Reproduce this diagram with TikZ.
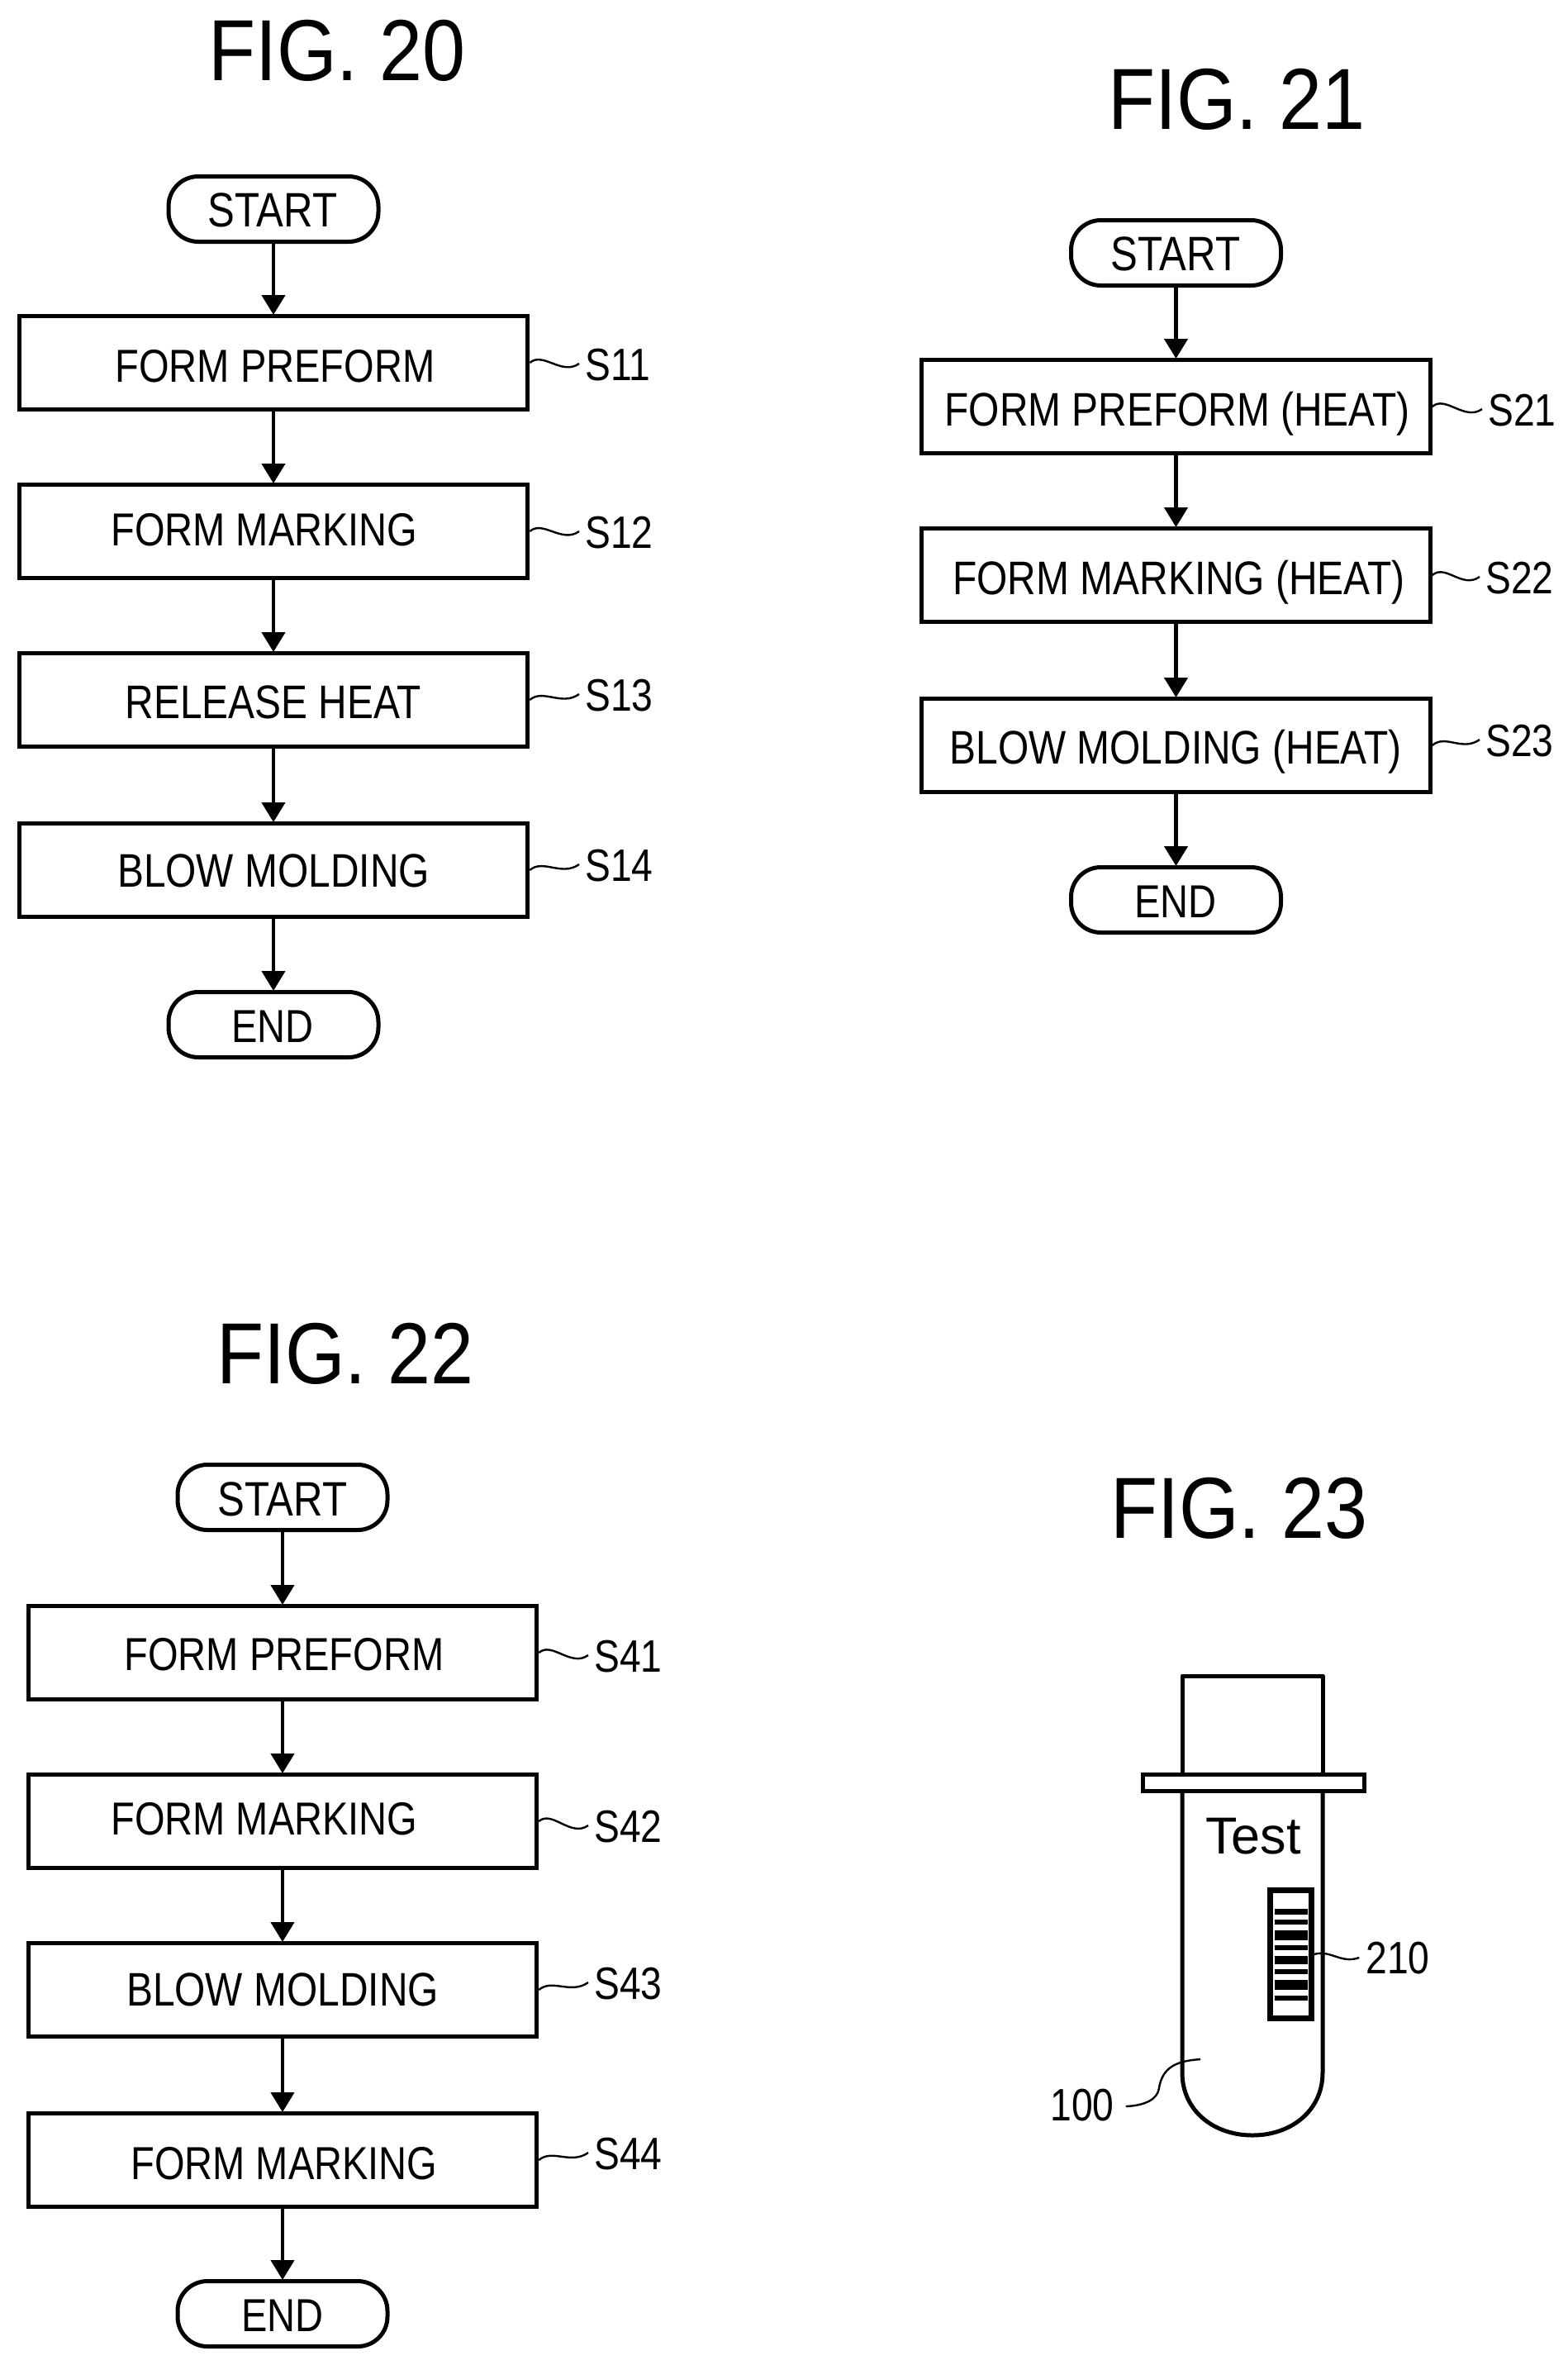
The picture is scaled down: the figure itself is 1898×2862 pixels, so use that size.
\documentclass[tikz,border=0pt]{standalone}
\usepackage{fontspec}
\setmainfont{Liberation Sans}
\newfontfamily\narrowf[FakeStretch=0.84]{Liberation Sans}
\newfontfamily\figf[FakeStretch=0.89]{Liberation Sans}
\usetikzlibrary{calc,arrows.meta}
\tikzset{
  stepbox/.style={draw=black,line width=5pt,minimum width=615.5pt,minimum height=113pt,inner sep=0pt,fill=white},
  termbox/.style={draw=black,line width=5pt,minimum width=254pt,minimum height=79pt,inner sep=0pt,rounded corners=36pt,fill=white},
  boxtext/.style={inner sep=0pt,text height=40pt,text depth=0pt,font=\narrowf\fontsize{56}{60}\selectfont},
  wider/.style={font=\narrowf\fontsize{57}{60}\selectfont},
  startext/.style={font=\narrowf\fontsize{58.5}{60}\selectfont},
  steplabel/.style={inner sep=0pt,anchor=west,text height=39pt,text depth=0pt,font=\narrowf\fontsize{55}{60}\selectfont},
  figtitle/.style={inner sep=0pt,text height=75pt,text depth=0pt,font=\figf\fontsize{105}{110}\selectfont},
  flowarrow/.style={line width=4.5pt,-{Triangle[length=24pt,width=28pt]},shorten >=-1pt},
  leader/.style={line width=2.4pt},
  tube/.style={line width=5pt,line join=round},
  bar/.style={fill=black,draw=none},
  reflabel/.style={inner sep=0pt,text height=38pt,text depth=0pt,font=\narrowf\fontsize{55}{60}\selectfont}
}
\newcommand{\leadto}[2]{\draw[leader] (#1.east) .. controls ($(#1.east)+(16,-14)$) and ($(#2.west)+(-28,14)$) .. ($(#2.west)+(-7,-1)$);}
\begin{document}
\begin{tikzpicture}[x=1pt,y=-1pt]
\useasboundingbox[fill=white] (0,0) rectangle (1898,2862);

% FIG 20
\node[figtitle] (t20) at (408,60) {FIG. 20};
\node[termbox] (a0) at (331,253) {};
\node[boxtext,startext] (a0t) at (330,254) {START};
\node[stepbox] (a1) at (331,439) {};
\node[boxtext] (a1t) at (333,442) {FORM PREFORM};
\node[stepbox] (a2) at (331,643) {};
\node[boxtext] (a2t) at (320,640) {FORM MARKING};
\node[stepbox] (a3) at (331,847) {};
\node[boxtext,wider] (a3t) at (331,849) {RELEASE HEAT};
\node[stepbox] (a4) at (331,1053) {};
\node[boxtext,wider] (a4t) at (331,1053) {BLOW MOLDING};
\node[termbox] (a5) at (331,1240) {};
\node[boxtext] (a5t) at (330,1241) {END};
\foreach \p/\q in {a0/a1,a1/a2,a2/a3,a3/a4,a4/a5} \draw[flowarrow] (\p) -- (\q);
\node[steplabel] (la1) at (708,441) {S11};
\node[steplabel] (la2) at (708,644) {S12};
\node[steplabel] (la3) at (708,841) {S13};
\node[steplabel] (la4) at (708,1047) {S14};
\leadto{a1}{la1}\leadto{a2}{la2}\leadto{a3}{la3}\leadto{a4}{la4}

% FIG 21
\node[figtitle] (t21) at (1497,119) {FIG. 21};
\node[termbox] (b0) at (1423.5,306) {};
\node[boxtext,startext] (b0t) at (1423,307) {START};
\node[stepbox] (b1) at (1423.5,492) {};
\node[boxtext,wider] (b1t) at (1425,495) {FORM PREFORM (HEAT)};
\node[stepbox] (b2) at (1423.5,696) {};
\node[boxtext,wider] (b2t) at (1427,699) {FORM MARKING (HEAT)};
\node[stepbox] (b3) at (1423.5,902) {};
\node[boxtext,wider] (b3t) at (1423,904) {BLOW MOLDING (HEAT)};
\node[termbox] (b4) at (1423.5,1089) {};
\node[boxtext] (b4t) at (1423,1090) {END};
\foreach \p/\q in {b0/b1,b1/b2,b2/b3,b3/b4} \draw[flowarrow] (\p) -- (\q);
\node[steplabel] (lb1) at (1801,496) {S21};
\node[steplabel] (lb2) at (1798,699) {S22};
\node[steplabel] (lb3) at (1798,896) {S23};
\leadto{b1}{lb1}\leadto{b2}{lb2}\leadto{b3}{lb3}

% FIG 22
\node[figtitle] (t22) at (418,1637) {FIG. 22};
\node[termbox] (c0) at (342,1812) {};
\node[boxtext,startext] (c0t) at (342,1814) {START};
\node[stepbox] (c1) at (342,2000) {};
\node[boxtext] (c1t) at (344,2001) {FORM PREFORM};
\node[stepbox] (c2) at (342,2204) {};
\node[boxtext] (c2t) at (320,2200) {FORM MARKING};
\node[stepbox] (c3) at (342,2408) {};
\node[boxtext,wider] (c3t) at (342,2407) {BLOW MOLDING};
\node[stepbox] (c4) at (342,2614) {};
\node[boxtext] (c4t) at (344,2617) {FORM MARKING};
\node[termbox] (c5) at (342,2800) {};
\node[boxtext] (c5t) at (342,2801) {END};
\foreach \p/\q in {c0/c1,c1/c2,c2/c3,c3/c4,c4/c5} \draw[flowarrow] (\p) -- (\q);
\node[steplabel] (lc1) at (719,2004) {S41};
\node[steplabel] (lc2) at (719,2210) {S42};
\node[steplabel] (lc3) at (719,2400) {S43};
\node[steplabel] (lc4) at (719,2606) {S44};
\leadto{c1}{lc1}\leadto{c2}{lc2}\leadto{c3}{lc3}\leadto{c4}{lc4}

% FIG 23
\node[figtitle] (t23) at (1500,1824) {FIG. 23};
\draw[tube] (1431,2146) -- (1431,2028) -- (1601,2028) -- (1601,2146);
\draw[tube] (1431,2170) -- (1431,2508) .. controls (1431,2555) and (1470,2584) .. (1516,2584)
  .. controls (1562,2584) and (1601,2555) .. (1601,2508) -- (1601,2170);
\node[draw=black,line width=5pt,inner sep=0pt,minimum width=268pt,minimum height=20pt] (flange) at (1517,2157) {};
\node[inner sep=0pt,text height=43pt,text depth=0pt,font=\fontsize{63}{66}\selectfont] (testt) at (1517,2222) {Test};
\node[draw=black,line width=7pt,inner sep=0pt,minimum width=50pt,minimum height=155pt] (code) at (1562,2365) {};
\foreach \u/\v in {2310/2317,2323/2329,2336/2348,2354/2360,2367/2377,2383/2389,2396/2408,2415/2421}
  \fill[bar] (1543,\u) rectangle (1583,\v);
\node[reflabel] (l210) at (1692,2369) {210};
\node[reflabel] (l100) at (1310,2547) {100};
\coordinate (tubein) at (1453,2492);
\draw[leader] (code.east) .. controls ($(code.east)+(20,-6)$) and ($(l210.west)+(-30,8)$) .. ($(l210.west)+(-8,0)$);
\draw[leader] ($(l100.east)+(14,2)$) .. controls ($(l100.east)+(38,1)$) and ($(l100.east)+(52,-7)$) .. ($(l100.east)+(54,-19)$)
  .. controls ($(l100.east)+(58,-45)$) and ($(tubein)+(-30,2)$) .. (tubein);
\end{tikzpicture}
\end{document}
